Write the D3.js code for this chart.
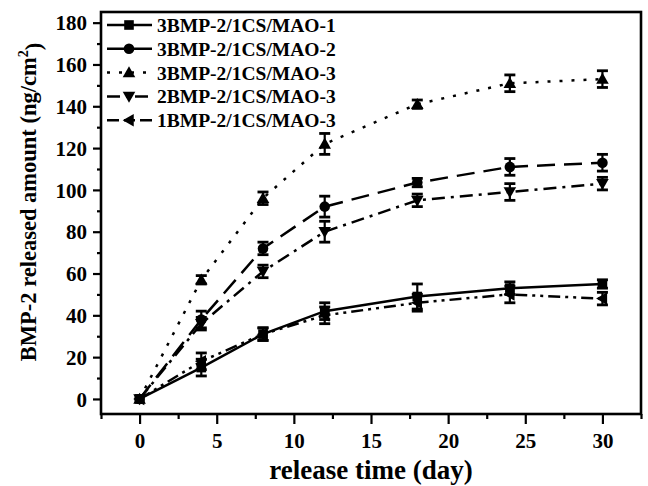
<!DOCTYPE html>
<html>
<head>
<meta charset="utf-8">
<script src="https://cdn.jsdelivr.net/npm/d3@7"></script>
<style>
    html, body { margin: 0; padding: 0; background: #fff; }
    svg { display: block; }
    text { font-family: "Liberation Serif", "Times New Roman", serif; font-weight: bold; fill: #000; }
</style>
</head>
<body>
<script>
(function () {
    "use strict";

    // release days
    var days = [0, 4, 8, 12, 18, 24, 30];

    var seriesNames = [
        "3BMP-2/1CS/MAO-1",
        "3BMP-2/1CS/MAO-2",
        "3BMP-2/1CS/MAO-3",
        "2BMP-2/1CS/MAO-3",
        "1BMP-2/1CS/MAO-3"
    ];

    // released amount (ng/cm2)
    var mao1 = [0, 15, 31, 42, 49, 53, 55];
    var mao2 = [0, 38, 72, 92, 103.5, 111, 113];
    var mao3 = [0, 57, 96, 122, 141, 151, 153];
    var bmp2 = [0, 36, 61, 80, 95, 99, 103];
    var bmp1 = [0, 18, 31, 40, 46, 50, 48];

    // error bar half heights
    var mao1Err = [0, 4, 3, 4, 6, 3, 2];
    var mao2Err = [0, 4, 3, 5, 2, 4, 4];
    var mao3Err = [0, 2, 3, 5, 2, 4, 4];
    var bmp2Err = [0, 3, 3, 5, 3, 4, 3];
    var bmp1Err = [0, 4, 3, 4, 4, 4, 3];

    var xTicks = [0, 5, 10, 15, 20, 25, 30];
    var yTicks = [0, 20, 40, 60, 80, 100, 120, 140, 160, 180];

    var values = [mao1, mao2, mao3, bmp2, bmp1];
    var errors = [mao1Err, mao2Err, mao3Err, bmp2Err, bmp1Err];
    var dashes = ["none", "18,9", "3,9", "13,6,3,6", "12,5,3,5,3,5"];
    var symbols = ["square", "circle", "up", "down", "left"];

    var width = 648, height = 486;
    var margin = {top: 12, right: 7, bottom: 72, left: 101};

    var svg = d3.select("body").append("svg")
        .attr("width", width)
        .attr("height", height);

    var x = d3.scaleLinear().domain([-2.5, 32.5]).range([margin.left, width - margin.right]);
    var y = d3.scaleLinear().domain([-7.2, 185.1]).range([height - margin.bottom, margin.top]);

    // axes (ticks outward, labels only on majors)
    var xMinor = d3.range(-2.5, 32.6, 2.5);
    var yMinor = d3.range(0, 181, 10);

    var xAxis = svg.append("g")
        .attr("transform", "translate(0," + (height - margin.bottom) + ")");
    xAxis.call(d3.axisBottom(x).tickValues(xMinor).tickSize(5).tickFormat(""));
    xAxis.selectAll(".tick").filter(function (d) { return xTicks.indexOf(d) >= 0; })
        .select("line").attr("y2", 10);
    xAxis.selectAll(".tick line").attr("stroke-width", 2.2);
    xAxis.select(".domain").remove();
    xAxis.selectAll(".tick").filter(function (d) { return xTicks.indexOf(d) >= 0; })
        .append("text")
        .attr("y", 34)
        .attr("text-anchor", "middle")
        .style("font-size", "21px")
        .text(function (d) { return d; });

    var yAxis = svg.append("g")
        .attr("transform", "translate(" + margin.left + ",0)");
    yAxis.call(d3.axisLeft(y).tickValues(yMinor).tickSize(4).tickFormat(""));
    yAxis.selectAll(".tick").filter(function (d) { return yTicks.indexOf(d) >= 0; })
        .select("line").attr("x2", -8);
    yAxis.selectAll(".tick line").attr("stroke-width", 2.2);
    yAxis.select(".domain").remove();
    yAxis.selectAll(".tick").filter(function (d) { return yTicks.indexOf(d) >= 0; })
        .append("text")
        .attr("x", -14)
        .attr("dy", "0.34em")
        .attr("text-anchor", "end")
        .style("font-size", "21px")
        .text(function (d) { return d; });

    // frame
    svg.append("rect")
        .attr("x", margin.left)
        .attr("y", margin.top)
        .attr("width", width - margin.left - margin.right)
        .attr("height", height - margin.top - margin.bottom)
        .attr("fill", "none")
        .attr("stroke", "#000")
        .attr("stroke-width", 2.6);

    // axis titles
    svg.append("text")
        .attr("x", (margin.left + width - margin.right) / 2)
        .attr("y", 479)
        .attr("text-anchor", "middle")
        .style("font-size", "27px")
        .text("release time (day)");

    var yTitle = svg.append("text")
        .attr("transform", "translate(36,202) rotate(-90)")
        .attr("text-anchor", "middle")
        .style("font-size", "22.5px");
    yTitle.append("tspan").text("BMP-2 released amount (ng/cm");
    yTitle.append("tspan").attr("dy", "-0.55em").style("font-size", "14px").text("2");
    yTitle.append("tspan").attr("dy", "0.55em").text(")");

    function drawMarker(g, kind, cx, cy) {
        var s = 4.8;
        if (kind === "square") {
            g.append("rect").attr("x", cx - s).attr("y", cy - s).attr("width", 2 * s).attr("height", 2 * s);
        } else if (kind === "circle") {
            g.append("circle").attr("cx", cx).attr("cy", cy).attr("r", s + 0.5);
        } else {
            var r = s + 1.5, pts;
            if (kind === "up") {
                pts = [[cx, cy - r], [cx + r, cy + r * 0.75], [cx - r, cy + r * 0.75]];
            } else if (kind === "down") {
                pts = [[cx, cy + r], [cx + r, cy - r * 0.75], [cx - r, cy - r * 0.75]];
            } else {
                pts = [[cx - r, cy], [cx + r * 0.75, cy - r], [cx + r * 0.75, cy + r]];
            }
            g.append("polygon").attr("points", pts.map(function (p) { return p.join(","); }).join(" "));
        }
    }

    var line = d3.line()
        .x(function (d) { return x(d[0]); })
        .y(function (d) { return y(d[1]); });

    values.forEach(function (vals, i) {
        var g = svg.append("g").attr("fill", "#000");
        var pts = days.map(function (d, j) { return [d, vals[j]]; });

        g.append("path")
            .datum(pts)
            .attr("d", line)
            .attr("fill", "none")
            .attr("stroke", "#000")
            .attr("stroke-width", 2.5)
            .attr("stroke-dasharray", dashes[i]);

        // error bars
        days.forEach(function (d, j) {
            var e = errors[i][j];
            if (e <= 0) return;
            var cx = x(d), y0 = y(vals[j] - e), y1 = y(vals[j] + e);
            g.append("line").attr("x1", cx).attr("x2", cx).attr("y1", y0).attr("y2", y1)
                .attr("stroke", "#000").attr("stroke-width", 2.2);
            [y0, y1].forEach(function (yy) {
                g.append("line").attr("x1", cx - 5.5).attr("x2", cx + 5.5).attr("y1", yy).attr("y2", yy)
                    .attr("stroke", "#000").attr("stroke-width", 2.8);
            });
        });

        pts.forEach(function (p) {
            drawMarker(g, symbols[i], x(p[0]), y(p[1]));
        });
    });

    // legend
    var legend = svg.append("g");
    seriesNames.forEach(function (name, i) {
        var ly = 25 + i * 23.8;
        var row = legend.append("g").attr("fill", "#000");
        row.append("line")
            .attr("x1", 107).attr("x2", 152)
            .attr("y1", ly).attr("y2", ly)
            .attr("stroke", "#000")
            .attr("stroke-width", 2.5)
            .attr("stroke-dasharray", dashes[i]);
        drawMarker(row, symbols[i], 129, ly);
        row.append("text")
            .attr("x", 157)
            .attr("y", ly + 7)
            .style("font-size", "19.5px")
            .text(name);
    });
})();
</script>
</body>
</html>
